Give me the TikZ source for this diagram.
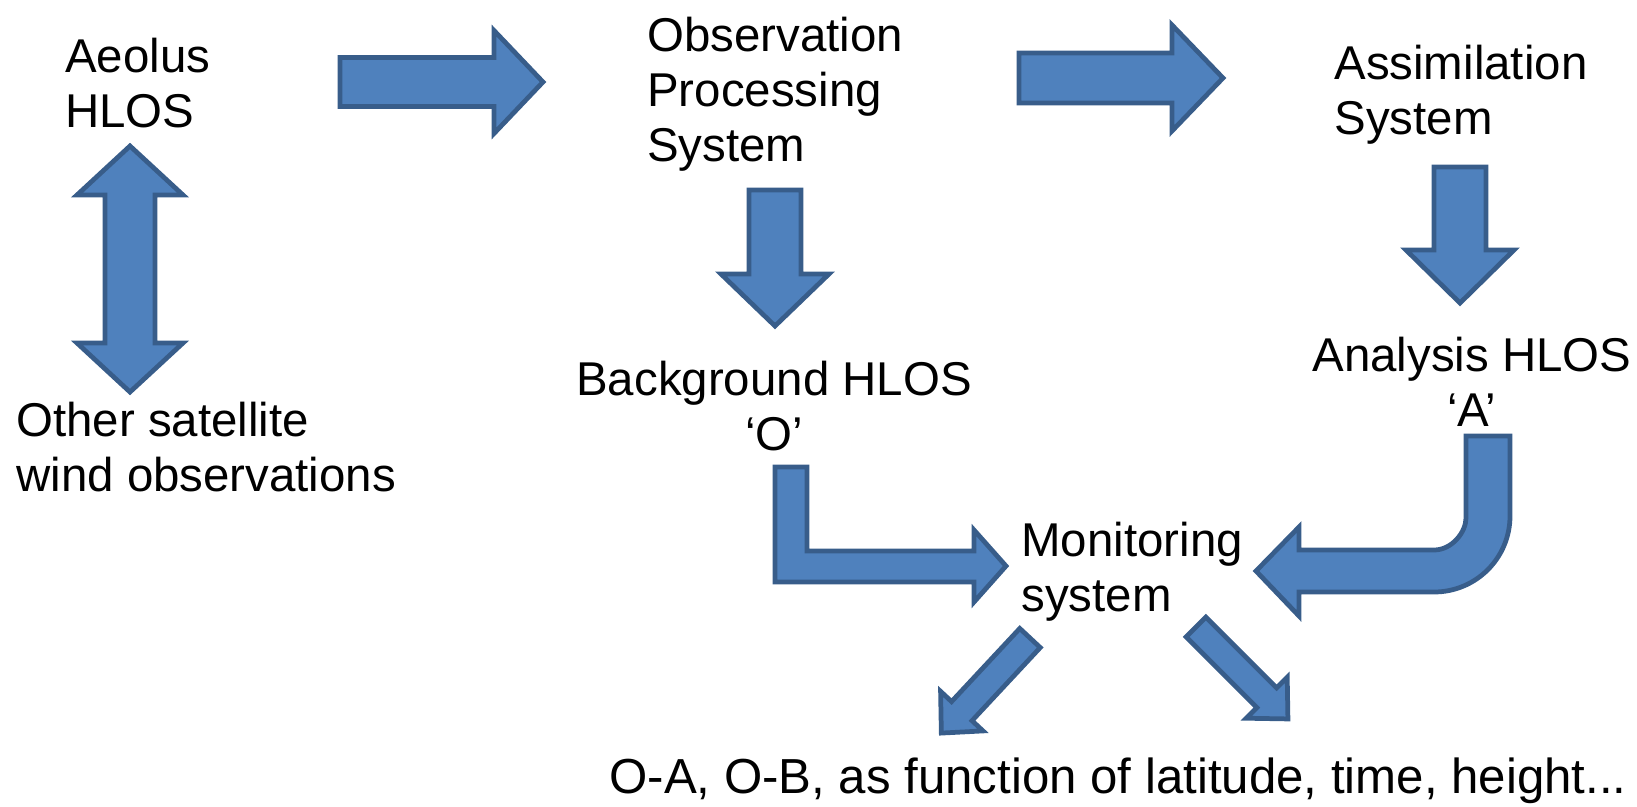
\documentclass[tikz,border=0pt]{standalone}
\usepackage{fontspec}
\setmainfont{Liberation Sans}
\usetikzlibrary{calc,positioning}

\definecolor{arrowfill}{HTML}{4F81BD}
\definecolor{arrowline}{HTML}{385D8A}

\tikzset{
  blockshape/.style={fill=arrowfill, draw=arrowline, line width=2.7pt, line join=miter},
  lbl/.style={font=\fontsize{27}{31.3}\selectfont, inner sep=0pt, align=left},
}

% straight block arrow: tail, rotation, length, shaft width, head width, head length
\newcommand{\blockarrow}[6]{%
  \begin{scope}[shift={(#1)}, rotate=#2]
    \draw[blockshape] (0,{-#4/2}) -- ({#3-#6},{-#4/2}) -- ({#3-#6},{-#5/2})
      -- (#3,0) -- ({#3-#6},{#5/2}) -- ({#3-#6},{#4/2}) -- (0,{#4/2}) -- cycle;
  \end{scope}}

\begin{document}
\begin{tikzpicture}[x=0.02cm, y=-0.02cm]
        \useasboundingbox (0,0) rectangle (1637,806);
        % Text blocks (base = baseline of the last line)
        \node[lbl, anchor=base west] (aeolus) at (65,127) {Aeolus\\HLOS};
        \node[lbl, anchor=base west] (obsproc) at (647,161) {Observation\\Processing\\System};
        \node[lbl, anchor=base west] (assim) at (1334,134) {Assimilation\\System};
        \node[lbl, anchor=base west, align=center] (background) at (576,450) {Background HLOS\\`O'};
        \node[lbl, anchor=base west, align=center] (analysis) at (1312,426) {Analysis HLOS\\`A'};
        \node[lbl, anchor=base west] (othersat) at (16,491) {Other satellite\\wind observations};
        \node[lbl, anchor=base west] (monitor) at (1021,611) {Monitoring\\system};
        \node[lbl, anchor=base west, font=\fontsize{28}{32}\selectfont] (stats) at (609,793)
          {O-A, O-B, as function of latitude, time, height...};
        % Straight arrows
        \blockarrow{340,82}{0}{203}{49}{103}{49}
        \blockarrow{1019,78}{0}{204}{50}{106}{51}
        \blockarrow{775,190}{-90}{136}{52}{108}{52}
        \blockarrow{1460,167}{-90}{136}{52}{108}{53}
        \blockarrow{1030,638}{-133}{130}{28}{58}{30}
        \blockarrow{1196,627}{-45}{130}{28}{58}{30}
        % Double arrow between Aeolus and the other satellites
        \draw[blockshape] (130,146) -- (183,195) -- (155,195) -- (155,343) -- (183,343)
          -- (130,392) -- (77,343) -- (105,343) -- (105,195) -- (77,195) -- cycle;
        % Bent arrow from background into monitoring
        \draw[blockshape] (775,467) -- (807,467) -- (807,551) -- (974,551) -- (974,530)
          -- (1006,566) -- (974,602) -- (974,582) -- (775,582) -- cycle;
        % Curved arrow from analysis into monitoring
        \draw[blockshape] (1466,436) -- (1510,436) -- (1510,516)
          .. controls (1510,558) and (1476,592) .. (1434,592) -- (1299,592) -- (1299,616)
          -- (1256,571) -- (1299,527) -- (1299,550) -- (1434,550)
          .. controls (1452,550) and (1466,532) .. (1466,518) -- cycle;
\end{tikzpicture}
\end{document}
